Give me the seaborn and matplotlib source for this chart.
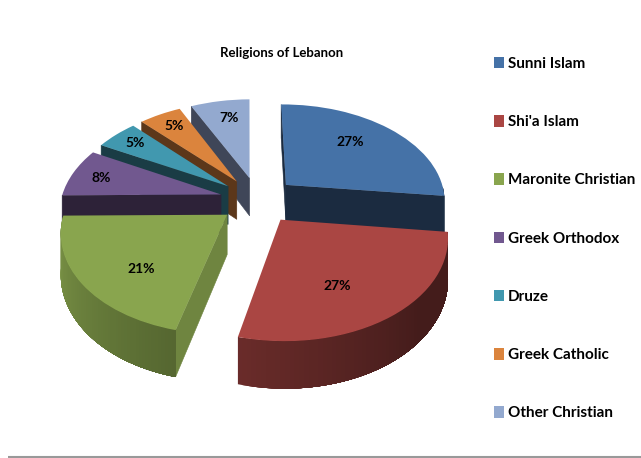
import numpy as np
import matplotlib
matplotlib.use("Agg")
import matplotlib.pyplot as plt
import seaborn as sns
from matplotlib.patches import Polygon
from matplotlib.transforms import Transform

# Chart data
religions = ["Sunni Islam", "Shi'a Islam", "Maronite Christian", "Greek Orthodox",
             "Druze", "Greek Catholic", "Other Christian"]
shares = [27, 27, 21, 8, 5, 5, 7]
title_text = "Religions of Lebanon"

# Styling
slice_colors = ["#4572A7", "#AA4643", "#89A54E", "#71588F", "#4198AF", "#DB843D", "#93A9CF"]
wall_colors = ["#1B2B40", "#6A2B2A", "#6F8540", "#2D2238", "#1A3C45", "#5C371A", "#3F4658"]
rim_shade = [(0.40, 0.40), (0.62, 0.40), (0.92, 0.62), (0.40, 0.40),
             (0.40, 0.40), (0.40, 0.40), (0.45, 0.45)]
paint_order = [6, 5, 4, 3, 2, 0, 1]
explode = [0.24] * 7
label_reach = [0.65, 0.75, 0.75, 0.85, 0.84, 0.80, 0.72]
label_nudge = [(-5, -5), (-24, -4), (20, 4), (6, 2), (2, 1), (0, -1), (2, -3)]

# Projection of the unit pie onto the canvas (canvas units are pixels)
CX, CY, RX, RY, TILT, DEPTH = 258.0, 200.0, 160.0, 96.7, 0.15, 39.0


def project(x, y, drop=0.0):
    w = 1 + TILT * y
    return CX + RX * x / w, CY + (drop - RY * y) / w


class TiltedPie(Transform):
    input_dims = output_dims = 2

    def transform_non_affine(self, values):
        values = np.asarray(values, dtype=float)
        px, py = project(values[:, 0], values[:, 1])
        return np.column_stack([px, py])


sns.set_theme(style="white")
plt.rcParams["font.family"] = ["Lato", "Liberation Sans", "DejaVu Sans"]
plt.rcParams["font.weight"] = "bold"
palette = sns.color_palette(slice_colors)

fig = plt.figure(figsize=(6.41, 4.58), dpi=100)
ax = fig.add_axes([0, 0, 1, 1])

wedges, _, pct_texts = ax.pie(
    shares, startangle=90.5, counterclock=False, explode=explode, colors=palette,
    autopct="%.0f%%", wedgeprops={"linewidth": 0},
    textprops={"fontsize": 10, "color": "black", "fontweight": "bold"},
)
ax.set_aspect("auto")
ax.set_xlim(0, 641)
ax.set_ylim(458, 0)
ax.axis("off")


def add_wall(points, color, z, edge=True):
    ax.add_patch(Polygon(points, closed=True, facecolor=color,
                         edgecolor=color if edge else "none",
                         linewidth=0.4 if edge else 0, zorder=z))


tilted = TiltedPie() + ax.transData
for rank, i in enumerate(paint_order):
    wedge = wedges[i]
    wedge.set_transform(tilted)
    wedge.set_zorder(rank * 10 + 3)
    (x0, y0), t1, t2 = wedge.center, wedge.theta1, wedge.theta2

    # Flat cut faces turned toward the viewer
    for t, facing in ((t1, np.cos(np.radians(t1)) > 0), (t2, np.cos(np.radians(t2)) < 0)):
        if facing:
            xr, yr = x0 + np.cos(np.radians(t)), y0 + np.sin(np.radians(t))
            add_wall([project(x0, y0), project(xr, yr), project(xr, yr, DEPTH), project(x0, y0, DEPTH)],
                     wall_colors[i], rank * 10 + 1)

    # Curved outer wall: overlapping strips from one end to the other
    angles = np.linspace(t1, t2, 70)
    front = [a for a in angles if np.sin(np.radians(a)) < 0]
    for n, a in enumerate(front):
        s = n / max(len(front) - 1, 1)
        if i == 1:
            s = min(s * 1.6, 1.0)
        f = rim_shade[i][0] + (rim_shade[i][1] - rim_shade[i][0]) * s
        shade = tuple(c * f for c in palette[i])
        arc = np.radians(np.linspace(a, front[-1], 2 + len(front) - n))
        xs, ys = x0 + np.cos(arc), y0 + np.sin(arc)
        upper = [project(x, y) for x, y in zip(xs, ys)]
        lower = [project(x, y, DEPTH) for x, y in zip(xs, ys)]
        add_wall(upper + lower[::-1], shade, rank * 10 + 2, edge=False)

    # Percent label sits along the middle of its slice
    mid = np.radians((t1 + t2) / 2)
    lx, ly = project(x0 + label_reach[i] * np.cos(mid), y0 + label_reach[i] * np.sin(mid))
    pct_texts[i].set_position((lx + label_nudge[i][0], ly + label_nudge[i][1]))
    pct_texts[i].set_zorder(200)

ax.text(282, 53, title_text, ha="center", va="center", fontsize=9.5, fontweight="bold", color="black")

ax.legend(
    wedges, religions, loc="upper left", bbox_to_anchor=(494 / 641, 1 - 57 / 458),
    frameon=False, fontsize=11, handlelength=0.65, handleheight=0.78, handletextpad=0.25,
    labelspacing=2.89, borderpad=0, borderaxespad=0, labelcolor="black",
)

# Thin rule along the lower edge
ax.hlines(457, 8, 641, color="#999999", linewidth=1.5)

fig.savefig("out.png", dpi=100)
